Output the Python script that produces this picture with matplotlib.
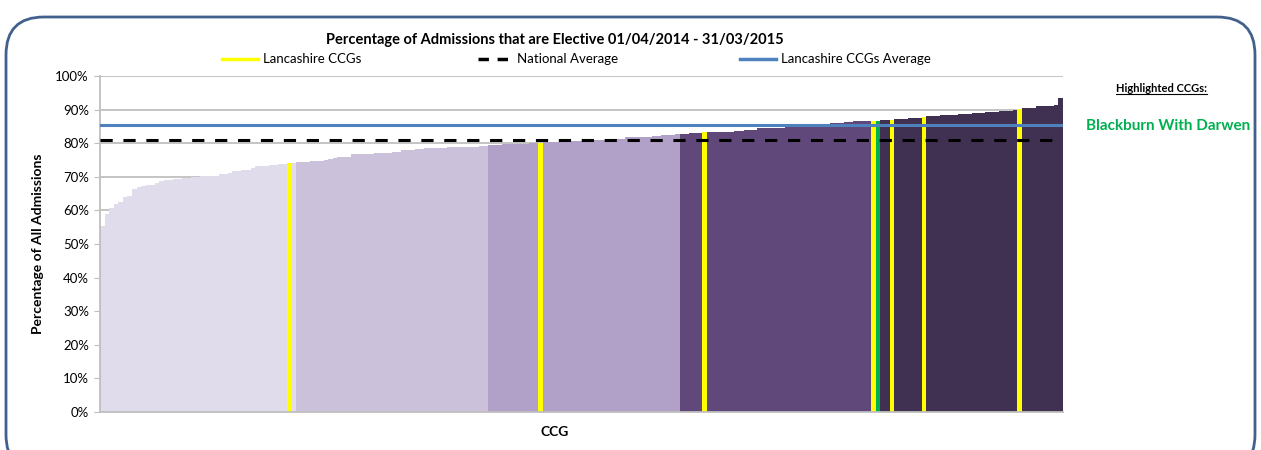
import matplotlib
matplotlib.use("Agg")
import matplotlib.pyplot as plt
from matplotlib.patches import FancyBboxPatch
from matplotlib.lines import Line2D
import numpy as np

plt.rcParams['font.family'] = ['Lato', 'DejaVu Sans']

# CCG values (% elective), sorted ascending
group1 = [55.5, 59.0, 60.6, 61.9, 62.5, 64.1, 64.4, 66.4, 67.1, 67.4,
          67.7, 67.7, 68.2, 68.7, 69.0, 69.0, 69.3, 69.3, 69.6, 69.6,
          69.8, 70.0, 70.2, 70.2, 70.2, 70.3, 70.8, 70.8, 71.2, 71.6,
          71.6, 72.0, 72.0, 72.5, 73.2, 73.2, 73.2, 73.5, 73.5, 73.7,
          73.7, 74.2, 74.2]
group2 = [74.4, 74.4, 74.4, 74.7, 74.7, 74.7, 75.0, 75.3, 75.6, 76.0,
          76.0, 76.0, 76.7, 76.7, 76.7, 76.7, 76.8, 77.1, 77.2, 77.2,
          77.2, 77.5, 77.5, 78.0, 78.0, 78.0, 78.2, 78.2, 78.6, 78.6,
          78.6, 78.6, 78.7, 78.8, 78.8, 78.8, 78.9, 79.0, 79.0, 79.0,
          79.3, 79.3]
group3 = [79.5, 79.5, 79.5, 79.8, 79.8, 79.8, 79.8, 79.8, 79.9, 80.2,
          80.2, 80.2, 80.4, 80.4, 80.4, 80.5, 80.7, 80.7, 80.7, 80.8,
          80.8, 80.8, 80.9, 81.0, 81.1, 81.1, 81.1, 81.1, 81.2, 81.3,
          81.7, 81.7, 81.7, 81.9, 81.9, 81.9, 82.0, 82.2, 82.3, 82.5,
          82.5, 82.6]
group4 = [82.8, 82.8, 83.1, 83.1, 83.1, 83.3, 83.3, 83.3, 83.3, 83.3,
          83.3, 83.4, 83.5, 83.6, 83.9, 83.9, 84.0, 84.6, 84.6, 84.6,
          84.6, 84.6, 84.6, 85.3, 85.3, 85.3, 85.3, 85.4, 85.4, 85.4,
          85.5, 85.5, 85.6, 85.9, 85.9, 86.0, 86.2, 86.2, 86.5, 86.5,
          86.5, 86.5]
group5 = [86.6, 86.6, 86.8, 86.8, 87.0, 87.1, 87.1, 87.2, 87.4, 87.6,
          87.6, 87.9, 88.1, 88.1, 88.1, 88.4, 88.4, 88.4, 88.5, 88.6,
          88.6, 88.7, 88.9, 88.9, 89.0, 89.3, 89.3, 89.3, 89.5, 89.7,
          89.7, 89.8, 90.1, 90.4, 90.4, 90.6, 91.1, 91.1, 91.1, 91.2,
          91.3, 93.4]

# positions (rank) of Lancashire CCGs and the highlighted one
lancashire_idx = [41, 96, 132, 169, 173, 180, 201]
highlight_idx = [170]
highlight_name = "Blackburn With Darwen"

national_avg = 81.0
lancs_avg = 85.5

group_colors = ['#E1DCEC', '#CCC1DA', '#B1A0C7', '#60497A', '#403152']

#-------------------------------------------------------------------------------

groups = [group1, group2, group3, group4, group5]
values = np.concatenate(groups)
colors = []
for g, c in zip(groups, group_colors):
    colors += [c] * len(g)
for i in lancashire_idx:
    colors[i] = '#FFFF00'
for i in highlight_idx:
    colors[i] = '#00B050'

fig = plt.figure(figsize=(12.61, 4.5), dpi=100)
ax = fig.add_axes([100 / 1261, 1 - 412 / 450, 963 / 1261, 336 / 450])

x = np.arange(len(values))
ax.bar(x, values, width=1.0, color=colors, linewidth=0, zorder=2)
ax.axhline(national_avg, color='black', linestyle=(0, (4, 3.5)), linewidth=2.2, zorder=3)
ax.axhline(lancs_avg, color='#4F81BD', linewidth=2.2, zorder=3)

ax.set_xlim(-0.5, len(values) - 0.5)
ax.set_ylim(0, 100)
ax.set_yticks(np.arange(0, 101, 10))
ax.set_yticklabels([f"{v}%" for v in range(0, 101, 10)], fontsize=9.5)
ax.set_xticks([])
ax.yaxis.grid(True, color='#BFBFBF', linewidth=1.3, zorder=0)
ax.set_axisbelow(True)
ax.tick_params(axis='y', length=4, color='#BFBFBF', pad=4)
for s in ['top', 'right']:
    ax.spines[s].set_visible(False)
ax.spines['left'].set_color('#BFBFBF')
ax.spines['bottom'].set_color('#BFBFBF')
ax.spines['left'].set_linewidth(1.3)
ax.spines['bottom'].set_linewidth(1.3)

ax.set_ylabel('Percentage of All Admissions', fontsize=10, fontweight='bold', labelpad=8)
fig.text(555 / 1261, 1 - 432 / 450, 'CCG', fontsize=10, fontweight='bold', ha='center', va='center')

fig.text(555 / 1261, 1 - 40 / 450,
         'Percentage of Admissions that are Elective 01/04/2014 - 31/03/2015',
         fontsize=10.5, fontweight='bold', ha='center', va='center')

# legend row, placed by hand like the original
ly = 1 - 59 / 450
legend_items = [
    (222, 258, dict(color='#FFFF00', linewidth=2.5), 'Lancashire CCGs'),
    (478, 512, dict(color='black', linewidth=2.5, linestyle=(0, (3, 2.5))), 'National Average'),
    (740, 776, dict(color='#4F81BD', linewidth=2.5), 'Lancashire CCGs Average'),
]
for x0, x1, style, label in legend_items:
    fig.add_artist(Line2D([x0 / 1261, x1 / 1261], [ly, ly], transform=fig.transFigure, **style))
    fig.text((x1 + 5) / 1261, ly, label, fontsize=9.5, ha='left', va='center')

# highlighted CCGs box on the right
hl = fig.text(1161 / 1261, 1 - 88 / 450, 'Highlighted CCGs:', fontsize=8,
              fontweight='bold', ha='center', va='center')
fig.text(1168 / 1261, 1 - 126 / 450, highlight_name, fontsize=11,
         fontweight='bold', color='#00B050', ha='center', va='center')

fig.canvas.draw()
bb = hl.get_window_extent().transformed(fig.transFigure.inverted())
fig.add_artist(Line2D([bb.x0, bb.x1], [bb.y0 - 0.002, bb.y0 - 0.002],
                      transform=fig.transFigure, color='black', linewidth=0.8))

# rounded frame round the chart
frame = FancyBboxPatch((6 / 1261, -0.05), 1249 / 1261, 1.03 - 8 / 450,
                       boxstyle='round,pad=0,rounding_size=0.03',
                       transform=fig.transFigure, fill=False,
                       edgecolor='#41618C', linewidth=2, mutation_aspect=1261 / 450)
fig.add_artist(frame)

fig.savefig('out.png', dpi=100)
